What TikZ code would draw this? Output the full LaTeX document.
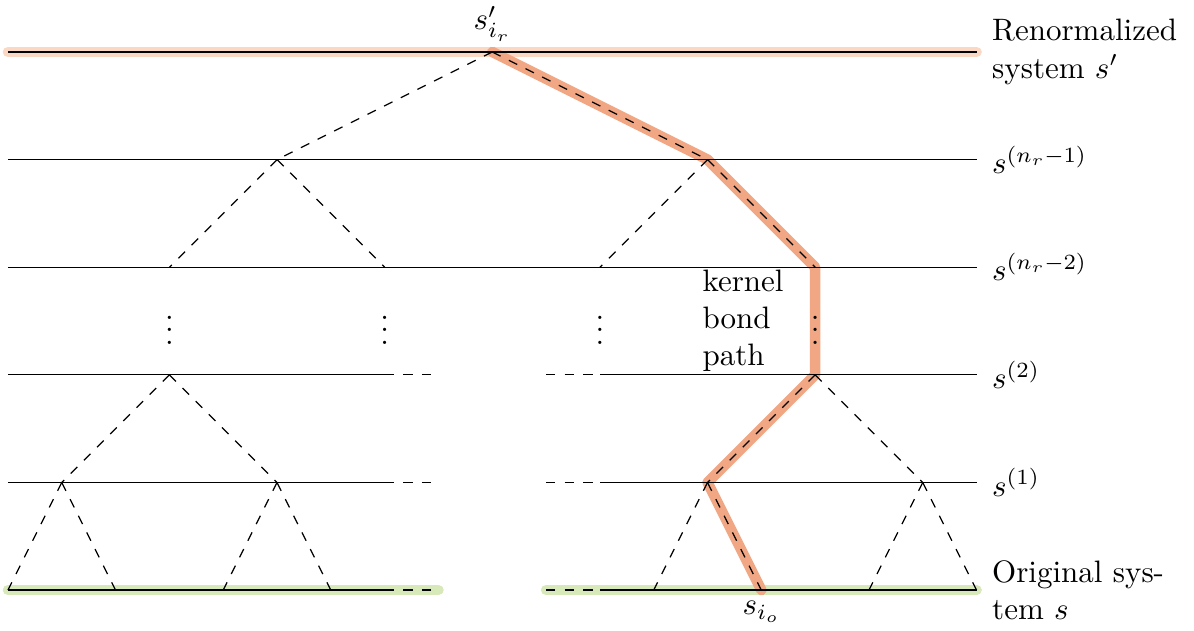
\documentclass[tikz,border=0pt]{standalone}
\definecolor{kernelorange}{RGB}{241,167,131}
\definecolor{peach}{RGB}{250,216,196}
\definecolor{lightgreen}{RGB}{215,232,185}
\begin{document}
\begin{tikzpicture}[x=1.22cm,y=1.22cm,
  levelline/.style={line width=0.4pt,black},
  treeedge/.style={dashed,line width=0.4pt,black},
  hlpeach/.style={line width=3.4pt,peach,line cap=round},
  hlgreen/.style={line width=3.4pt,lightgreen,line cap=round},
  kpath/.style={line width=3.4pt,kernelorange,line cap=round,line join=round},
  rlabel/.style={anchor=west,align=left,xshift=1.5pt}]
\useasboundingbox (-0.074,-0.372) rectangle (11.02,5.483);

% level end points
\foreach \y in {0,...,5}{
  \coordinate (l\y) at (0,\y);
  \coordinate (r\y) at (9,\y);
  \coordinate (p\y) at (3.5,\y);
  \coordinate (q\y) at (4,\y);
  \coordinate (u\y) at (5,\y);
  \coordinate (v\y) at (5.5,\y);
}
% tree nodes
\coordinate (t) at (4.5,5);
\coordinate (a1) at (2.5,4); \coordinate (a2) at (6.5,4);
\coordinate (b1) at (1.5,3); \coordinate (b2) at (3.5,3);
\coordinate (b3) at (5.5,3); \coordinate (b4) at (7.5,3);
\coordinate (c1) at (1.5,2); \coordinate (c2) at (7.5,2);
\coordinate (d1) at (0.5,1); \coordinate (d2) at (2.5,1);
\coordinate (d3) at (6.5,1); \coordinate (d4) at (8.5,1);
\foreach \x in {0,1,2,3,6,7,8,9}{\coordinate (e\x) at (\x,0);}

% highlights
\draw[hlpeach] (l5) -- (r5);
\draw[hlgreen] (l0) -- (q0);
\draw[hlgreen] (u0) -- (r0);
\draw[kpath] (t) -- (a2) -- (b4) -- (c2) -- (d3) -- (e7);

% level lines
\draw[levelline] (l5) -- (r5);
\draw[levelline] (l4) -- (r4);
\draw[levelline] (l3) -- (r3);
\foreach \y in {0,1,2}{
  \draw[levelline] (l\y) -- (p\y);
  \draw[treeedge] (p\y) -- (q\y);
  \draw[treeedge] (u\y) -- (v\y);
  \draw[levelline] (v\y) -- (r\y);
}

% tree edges
\draw[treeedge] (t) -- (a1);
\draw[treeedge] (t) -- (a2);
\draw[treeedge] (a1) -- (b1);
\draw[treeedge] (a1) -- (b2);
\draw[treeedge] (a2) -- (b3);
\draw[treeedge] (a2) -- (b4);
\draw[treeedge] (c1) -- (d1);
\draw[treeedge] (c1) -- (d2);
\draw[treeedge] (c2) -- (d3);
\draw[treeedge] (c2) -- (d4);
\draw[treeedge] (d1) -- (e0);
\draw[treeedge] (d1) -- (e1);
\draw[treeedge] (d2) -- (e2);
\draw[treeedge] (d2) -- (e3);
\draw[treeedge] (d3) -- (e6);
\draw[treeedge] (d3) -- (e7);
\draw[treeedge] (d4) -- (e8);
\draw[treeedge] (d4) -- (e9);

% vertical dots
\node (vd1) at (1.5,2.5) {$\vdots$};
\node (vd2) at (3.5,2.5) {$\vdots$};
\node (vd3) at (5.5,2.5) {$\vdots$};
\node (vd4) at (7.5,2.5) {$\vdots$};

% labels
\node (top) [above] at (t) {$s'_{i_r}$};
\node (bot) [below] at (e7) {$s_{i_o}$};
\node (kern) [align=left] at (6.83,2.5) {kernel\\bond\\path};
\node (lab5) [rlabel] at (r5) {Renormalized\\system $s'$};
\node (lab4) [rlabel] at (r4) {$s^{(n_r-1)}$};
\node (lab3) [rlabel] at (r3) {$s^{(n_r-2)}$};
\node (lab2) [rlabel] at (r2) {$s^{(2)}$};
\node (lab1) [rlabel] at (r1) {$s^{(1)}$};
\node (lab0) [rlabel] at (r0) {Original sys-\\tem $s$};
\end{tikzpicture}
\end{document}
